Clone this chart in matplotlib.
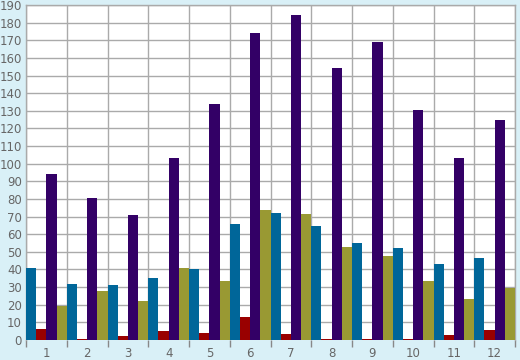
import matplotlib
matplotlib.use("Agg")
import matplotlib.pyplot as plt
import numpy as np

categories = [str(i) for i in range(1, 13)]
blue = [40.7, 31.9, 31.1, 35.1, 40.2, 65.6, 71.9, 64.5, 54.9, 52.1, 43.0, 46.4]
red = [6.2, 0.4, 2.3, 5.3, 4.0, 13.0, 3.4, 0.6, 0.6, 0.6, 2.8, 5.7]
purple = [94.0, 80.4, 70.7, 103.0, 133.6, 174.3, 184.5, 154.5, 169.2, 130.2, 103.0, 125.0]
olive = [19.2, 27.7, 22.0, 40.9, 33.4, 73.6, 71.3, 52.6, 47.5, 33.4, 23.2, 29.4]

series = [blue, red, purple, olive]
colors = ["#006699", "#990000", "#330066", "#999933"]

bg = "#d9f0f7"
fig = plt.figure(figsize=(5.2, 3.6), dpi=100, facecolor=bg)
ax = fig.add_axes([26/520, 20/360, 489/520, 335/360])
ax.set_facecolor("white")

x = np.arange(len(categories))
w = 0.25
for k, (vals, c) in enumerate(zip(series, colors)):
    ax.bar(x - 0.5 + w * k, vals, width=w, align="edge", color=c, linewidth=0, zorder=3)

ax.set_xlim(-0.5, len(categories) - 0.5)
ax.set_ylim(0, 190)
ax.set_yticks(np.arange(0, 191, 10))
ax.set_xticks(x)
ax.set_xticklabels(categories)
ax.set_xticks(np.arange(-0.5, len(categories), 1), minor=True)

ax.grid(True, which="minor", axis="x", color="#aaaaaa", linewidth=1, zorder=1)
ax.grid(True, which="major", axis="y", color="#aaaaaa", linewidth=1, zorder=1)

ax.tick_params(axis="x", which="major", length=0, pad=5, labelsize=8.5, labelcolor="#666666")
ax.tick_params(axis="x", which="minor", length=5, color="#888888", width=1)
ax.tick_params(axis="y", which="major", length=0, pad=3, labelsize=8.5, labelcolor="#666666")

for s in ["top", "right", "left"]:
    ax.spines[s].set_color("#aaaaaa")
    ax.spines[s].set_linewidth(1)
ax.spines["bottom"].set_visible(False)

fig.savefig("out.png", dpi=100, facecolor=bg)
